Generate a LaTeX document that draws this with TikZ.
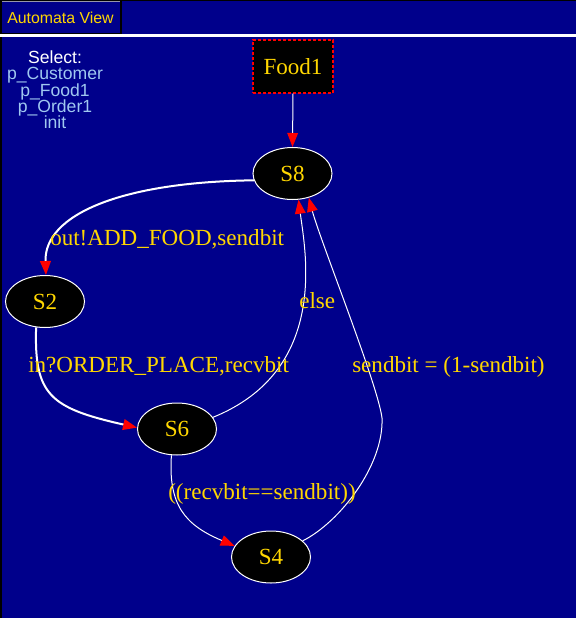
\documentclass[tikz,border=0pt]{standalone}
\usepackage{fontspec}
\setmainfont{Liberation Serif}
\setsansfont{Liberation Sans}
\usetikzlibrary{arrows.meta,shapes.geometric}
\definecolor{navybg}{RGB}{0,0,139}
\definecolor{goldtxt}{RGB}{255,215,0}
\definecolor{listblue}{RGB}{160,200,240}
\definecolor{tabgrey}{RGB}{150,150,170}
\begin{document}
\begin{tikzpicture}[x=0.75pt,y=-0.75pt,
  state/.style={ellipse,draw=white,line width=0.75pt,fill=black,
    minimum width=59.25pt,minimum height=39pt,inner sep=0pt,
    text=goldtxt,font=\fontsize{17.3}{20}\selectfont},
  procbox/.style={rectangle,draw=red,dash pattern=on 2.25pt off 1.5pt,
    line width=0.9pt,fill=black,minimum width=60pt,minimum height=39.75pt,
    inner sep=0pt,text=goldtxt,font=\fontsize{17.3}{20}\selectfont},
  lbl/.style={inner sep=0pt,text=goldtxt,font=\fontsize{17.3}{20}\selectfont,anchor=base west},
  listtxt/.style={inner sep=0pt,text=listblue,font=\sffamily\fontsize{13.2}{15}\selectfont,anchor=base},
  tip/.style={-{Triangle[color=red,length=10.5pt,width=8pt]}},
  thickedge/.style={draw=white,line width=1.5pt,tip},
  thinedge/.style={draw=white,line width=0.75pt,tip}]
\useasboundingbox (0,0) rectangle (576,618);
\fill[navybg] (0,0) rectangle (576,618);
% frame
\draw[black,line width=0.75pt] (0,0.5) -- (576,0.5);
\draw[black,line width=1.5pt] (0.5,35) -- (0.5,618);
% tab
\draw[tabgrey,line width=0.75pt] (0,1.5) -- (120,1.5);
\draw[black,line width=1.5pt] (120.5,1) -- (120.5,33.5) -- (0,33.5);
\draw[black,line width=1.5pt] (0.5,1) -- (0.5,33.5);
\node[inner sep=0pt,anchor=base west,text=goldtxt,font=\sffamily\fontsize{11.9}{14}\selectfont] (tab) at (7,23) {Automata View};
\draw[white,line width=2.25pt] (0,35) -- (576,35);
% list
\node[listtxt,text=white] (sel) at (55,63) {Select:};
\node[listtxt] (l1) at (55,79.5) {p\_Customer};
\node[listtxt] (l2) at (55,96) {p\_Food1};
\node[listtxt] (l3) at (55,112.5) {p\_Order1};
\node[listtxt] (l4) at (55,128.5) {init};
% nodes
\node[procbox] (F) at (293,66.5) {Food1};
\node[state] (S8) at (292.5,173.5) {S8};
\node[state] (S2) at (45,301.5) {S2};
\node[state] (S6) at (177,429) {S6};
\node[state] (S4) at (271,557) {S4};
\coordinate (k1) at (382,418);
% edges
\draw[thinedge] (F.south) -- (S8.north);
\draw[thickedge] (S8.190) .. controls (120,182) and (44,215) .. (S2.88);
\draw[thickedge] (S2.-109) .. controls (34,395) and (50,408) .. (S6.178);
\draw[thinedge] (S6.18) .. controls (330,370) and (305,250) .. (S8.-77);
\draw[thinedge] (S6.-102) .. controls (168,505) and (185,525) .. (S4.163);
\draw[thinedge] (S4.27) .. controls (340,522) and (384,465) .. (k1)
   .. controls (378,385) and (320,240) .. (S8.-56);
% labels
\node[lbl] (t1) at (50,245) {out!ADD\_FOOD,sendbit};
\node[lbl] (t2) at (28,372.5) {in?ORDER\_PLACE,recvbit};
\node[lbl] (t3) at (299,308) {else};
\node[lbl] (t4) at (352,372) {sendbit = (1-sendbit)};
\node[lbl] (t5) at (168,499) {((recvbit==sendbit))};
\end{tikzpicture}
\end{document}
